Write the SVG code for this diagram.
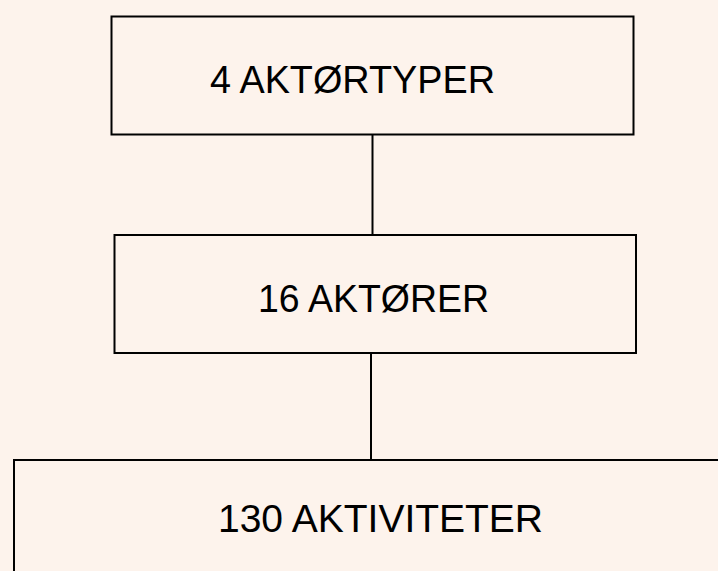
<svg xmlns="http://www.w3.org/2000/svg" width="718" height="571" viewBox="0 0 718 571">
<style>
.box{fill:#FDF3EC;stroke:#000;stroke-width:2}
.lbl{font-family:"Liberation Sans",Arial,sans-serif;font-size:39px;fill:#000}
.con{stroke:#000;stroke-width:2;fill:none}
</style>
<rect x="0" y="0" width="718" height="571" fill="#FDF3EC"/>
<g id="connectors">
<line class="con" x1="372.5" y1="134.5" x2="372.5" y2="235"/>
<line class="con" x1="371" y1="353" x2="371" y2="460"/>
</g>
<g id="node1">
<rect class="box" x="111.5" y="16.5" width="522" height="118"/>
<text class="lbl" x="210" y="93" textLength="285" lengthAdjust="spacingAndGlyphs">4 AKTØRTYPER</text>
</g>
<g id="node2">
<rect class="box" x="114.5" y="235" width="521.5" height="118"/>
<text class="lbl" x="258" y="312" textLength="231" lengthAdjust="spacingAndGlyphs">16 AKTØRER</text>
</g>
<g id="node3">
<rect class="box" x="14" y="460" width="720" height="130"/>
<text class="lbl" x="218" y="532" textLength="325" lengthAdjust="spacingAndGlyphs">130 AKTIVITETER</text>
</g>
</svg>
